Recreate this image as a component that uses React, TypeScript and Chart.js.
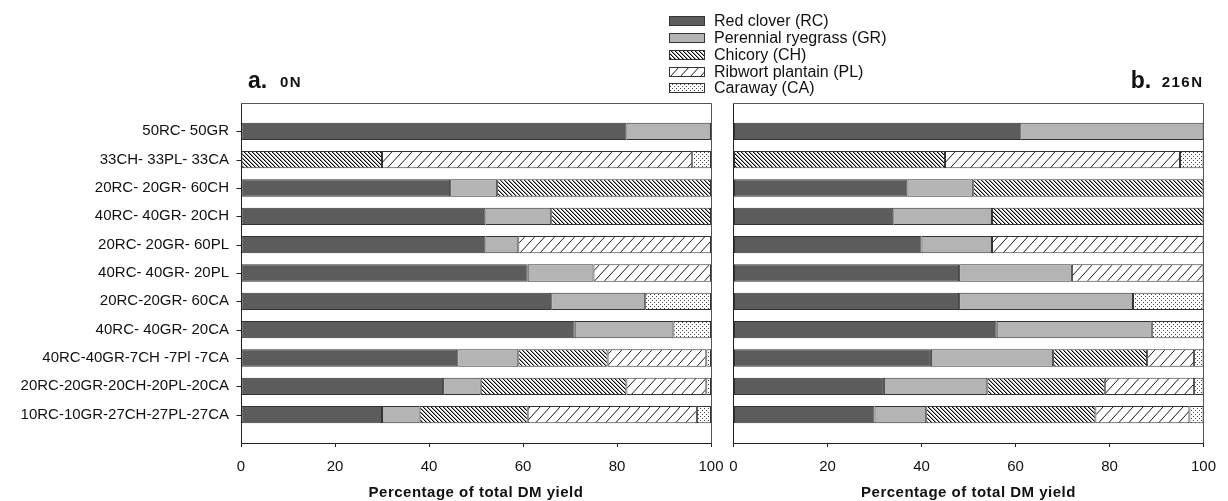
import React, { useEffect, useRef } from "react";
import { Chart, registerables } from "chart.js";

Chart.register(...registerables);

const categories = [
  "50RC- 50GR",
  "33CH- 33PL- 33CA",
  "20RC- 20GR- 60CH",
  "40RC- 40GR- 20CH",
  "20RC- 20GR- 60PL",
  "40RC- 40GR- 20PL",
  "20RC-20GR- 60CA",
  "40RC- 40GR- 20CA",
  "40RC-40GR-7CH -7Pl -7CA",
  "20RC-20GR-20CH-20PL-20CA",
  "10RC-10GR-27CH-27PL-27CA",
];

const seriesNames = [
  "Red clover (RC)",
  "Perennial ryegrass (GR)",
  "Chicory (CH)",
  "Ribwort plantain (PL)",
  "Caraway (CA)",
];

// Panel a: 0N
const rc0N = [82, null, 44.5, 52, 52, 61, 66, 71, 46, 43, 30];
const gr0N = [18, null, 10, 14, 7, 14, 20, 21, 13, 8, 8];
const ch0N = [null, 30, 45.5, 34, null, null, null, null, 19, 31, 23];
const pl0N = [null, 66, null, null, 41, 25, null, null, 21, 17, 36];
const ca0N = [null, 4, null, null, null, null, 14, 8, 1, 1, 3];

// Panel b: 216N
const rc216N = [61, null, 37, 34, 40, 48, 48, 56, 42, 32, 30];
const gr216N = [39, null, 14, 21, 15, 24, 37, 33, 26, 22, 11];
const ch216N = [null, 45, 49, 45, null, null, null, null, 20, 25, 36];
const pl216N = [null, 50, null, null, 45, 28, null, null, 10, 19, 20];
const ca216N = [null, 5, null, null, null, null, 15, 11, 2, 2, 3];

const xTickStep = 20;
const xMin = 0;
const xMax = 100;
const axisTitle = "Percentage of total DM yield";

const FONT = "'Liberation Sans', Arial, Helvetica, sans-serif";

function makePatterns(): (string | CanvasPattern)[] {
  const mk = (w: number, h: number, draw: (c: CanvasRenderingContext2D) => void) => {
    const cv = document.createElement("canvas");
    cv.width = w;
    cv.height = h;
    const c = cv.getContext("2d")!;
    c.fillStyle = "#ffffff";
    c.fillRect(0, 0, w, h);
    draw(c);
    return c.createPattern(cv, "repeat")!;
  };
  const ch = mk(4, 4, (c) => {
    for (let i = 0; i < 4; i++) {
      c.fillStyle = "#000";
      c.fillRect(i, i, 1, 1);
      c.fillStyle = "#9a9a9a";
      c.fillRect((i + 1) % 4, i, 1, 1);
    }
  });
  const pl = mk(10, 11, (c) => {
    c.strokeStyle = "#1a1a1a";
    c.lineWidth = 1;
    for (const dx of [-10, 0, 10]) {
      c.beginPath();
      c.moveTo(dx, 11);
      c.lineTo(dx + 10, 0);
      c.stroke();
    }
  });
  const ca = mk(4, 4, (c) => {
    c.fillStyle = "#444";
    c.fillRect(0, 0, 1, 1);
    c.fillRect(2, 2, 1, 1);
  });
  return ["#5c5c5c", "#b4b4b4", ch, pl, ca];
}

function boxPlugin(showYTicks: boolean) {
  return {
    id: "panelBox",
    afterDatasetsDraw(chart: any) {
      const { ctx, chartArea } = chart;
      const l = Math.floor(chartArea.left) + 0.5;
      const r = Math.floor(chartArea.right) + 0.5;
      const t = Math.floor(chartArea.top) + 0.5;
      const b = Math.floor(chartArea.bottom) + 0.5;
      ctx.save();
      ctx.lineWidth = 1;
      ctx.strokeStyle = "#555";
      ctx.beginPath();
      ctx.moveTo(l, t);
      ctx.lineTo(r, t);
      ctx.lineTo(r, b);
      ctx.stroke();
      ctx.strokeStyle = "#222";
      ctx.beginPath();
      ctx.moveTo(l, t);
      ctx.lineTo(l, b);
      ctx.lineTo(r, b);
      ctx.stroke();
      if (showYTicks) {
        const yScale = chart.scales.y;
        ctx.beginPath();
        for (let i = 1; i <= categories.length; i++) {
          const py = Math.round(yScale.getPixelForValue(i)) + 0.5;
          ctx.moveTo(l - 5, py);
          ctx.lineTo(l, py);
        }
        ctx.stroke();
      }
      ctx.restore();
    },
  };
}

function textPlugin(panel: "a" | "b", offsetX: number, fills: any[]) {
  return {
    id: "panelText" + panel,
    afterDraw(chart: any) {
      const { ctx, chartArea } = chart;
      ctx.save();
      ctx.fillStyle = "#111";
      ctx.textBaseline = "alphabetic";
      // axis title
      ctx.font = `bold 15px ${FONT}`;
      (ctx as any).letterSpacing = "0.5px";
      ctx.textAlign = "center";
      ctx.fillText(axisTitle, (chartArea.left + chartArea.right) / 2, 497);
      (ctx as any).letterSpacing = "0px";

      if (panel === "a") {
        ctx.textAlign = "left";
        ctx.font = `bold 23px ${FONT}`;
        ctx.fillText("a.", 248 - offsetX, 87.5);
        ctx.font = `bold 15px ${FONT}`;
        (ctx as any).letterSpacing = "1.5px";
        ctx.fillText("0N", 280 - offsetX, 87);
        (ctx as any).letterSpacing = "0px";

        // legend
        ctx.font = `16px ${FONT}`;
        for (let i = 0; i < seriesNames.length; i++) {
          const cy = 20.3 + i * 16.9;
          const bx = 669 - offsetX;
          const by = Math.round(cy - 4.5);
          ctx.fillStyle = fills[i];
          ctx.fillRect(bx, by, 35, 9);
          ctx.strokeStyle = "#333";
          ctx.lineWidth = 1;
          ctx.strokeRect(bx + 0.5, by + 0.5, 35, 9);
          ctx.fillStyle = "#111";
          ctx.fillText(seriesNames[i], 714 - offsetX, cy + 5.5);
        }
      } else {
        ctx.textAlign = "right";
        const rightEdge = 1202 - offsetX;
        ctx.font = `bold 15px ${FONT}`;
        (ctx as any).letterSpacing = "1.5px";
        const w = ctx.measureText("216N").width;
        ctx.fillText("216N", rightEdge + 1.5, 87);
        (ctx as any).letterSpacing = "0px";
        ctx.font = `bold 23px ${FONT}`;
        ctx.fillText("b.", rightEdge - w - 9, 87.5);
      }
      ctx.restore();
    },
  };
}

function buildConfig(
  series: (number | null)[][],
  fills: any[],
  panel: "a" | "b",
  yWidth: number,
  padRight: number,
  offsetX: number
) {
  const labels = ["", ...categories, ""];
  const showY = panel === "a";
  return {
    type: "bar",
    data: {
      labels,
      datasets: seriesNames.map((name, i) => ({
        label: name,
        data: [null, ...series[i], null],
        backgroundColor: fills[i],
        borderColor: "#333",
        borderWidth: 1,
        borderSkipped: false,
        barPercentage: 0.61,
        categoryPercentage: 1,
      })),
    },
    options: {
      indexAxis: "y",
      responsive: false,
      animation: false,
      devicePixelRatio: 1,
      layout: { padding: { top: 103, right: padRight, bottom: 0, left: 0 } },
      plugins: {
        legend: { display: false },
        tooltip: { enabled: false },
        title: { display: false },
      },
      scales: {
        x: {
          type: "linear",
          stacked: true,
          min: xMin,
          max: xMax,
          ticks: {
            stepSize: xTickStep,
            font: { family: FONT, size: 15 },
            color: "#111",
            padding: 11,
            maxRotation: 0,
          },
          grid: {
            display: true,
            drawOnChartArea: false,
            drawTicks: true,
            tickLength: 4,
            color: "#222",
          },
          border: { display: false },
          afterFit: (s: any) => {
            s.height = 58;
          },
        },
        y: {
          type: "category",
          stacked: true,
          offset: false,
          ticks: {
            display: showY,
            autoSkip: false,
            font: { family: FONT, size: 15 },
            color: "#111",
            padding: 4,
          },
          grid: { display: false, tickLength: 8 },
          border: { display: false },
          afterFit: (s: any) => {
            s.width = yWidth;
          },
        },
      },
    },
    plugins: [boxPlugin(showY), textPlugin(panel, offsetX, fills)],
  } as any;
}

export default function App() {
  const leftRef = useRef<HTMLCanvasElement | null>(null);
  const rightRef = useRef<HTMLCanvasElement | null>(null);

  useEffect(() => {
    document.body.style.margin = "0";
    const fills = makePatterns();
    const left = new Chart(
      leftRef.current!,
      buildConfig([rc0N, gr0N, ch0N, pl0N, ca0N], fills, "a", 241, 517, 0)
    );
    const right = new Chart(
      rightRef.current!,
      buildConfig([rc216N, gr216N, ch216N, pl216N, ca216N], fills, "b", 20.5, 24.5, 713)
    );
    return () => {
      left.destroy();
      right.destroy();
    };
  }, []);

  return (
    <div
      style={{
        position: "absolute",
        left: 0,
        top: 0,
        width: 1228,
        height: 501,
        background: "#ffffff",
        overflow: "hidden",
      }}
    >
      <canvas
        ref={leftRef}
        width={1228}
        height={501}
        style={{ position: "absolute", left: 0, top: 0, width: 1228, height: 501 }}
      />
      <canvas
        ref={rightRef}
        width={515}
        height={501}
        style={{ position: "absolute", left: 713, top: 0, width: 515, height: 501 }}
      />
    </div>
  );
}
